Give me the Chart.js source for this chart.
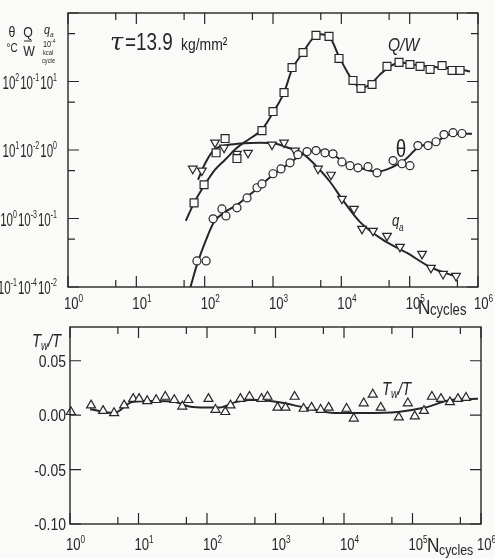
<!DOCTYPE html>
<html lang="ja">
<head>
<meta charset="UTF-8">
<title>Q/W, θ, q_a and Tw/T against N</title>
<script src="https://cdn.jsdelivr.net/npm/chart.js"></script>
<style>
    body { margin: 0; background: #fafaf8; }
    #wrap { position: relative; width: 495px; height: 559px; }
    #wrap canvas { position: absolute; left: 0; top: 0; }
</style>
</head>
<body>
<div id="wrap">
    <canvas id="upper" width="495" height="559"></canvas>
    <canvas id="lower" width="495" height="559"></canvas>
</div>
<script>
// values (N in cycles)
// upper panel, measured points
const qwN = [70, 98, 147, 199, 297, 690, 1000, 1450, 1900, 2750, 4260, 6600, 9250, 14800, 19400, 28100, 46600, 69900, 101000, 142000, 199000, 298000, 417000, 546000];
const qwVal = [1.69e-3, 3.11e-3, 9.1e-3, 1.47e-2, 7.5e-3, 1.92e-2, 3.64e-2, 6.9e-2, 0.160, 0.265, 0.471, 0.456, 0.217, 0.1035, 0.079, 0.0904, 0.166, 0.190, 0.177, 0.166, 0.150, 0.171, 0.145, 0.145];

const thetaN = [77, 105, 133, 179, 205, 297, 417, 584, 690, 1000, 1310, 1775, 2320, 3150, 4260, 5770, 7550, 10200, 13400, 17500, 24600, 33300, 57100, 77200, 101000, 132000, 186000, 243000, 318000, 431000, 583000];
const thetaVal = [0.24, 0.24, 0.99, 1.38, 1.09, 1.43, 2.0, 2.81, 3.2, 4.5, 5.3, 6.5, 8.55, 9.5, 9.8, 9.1, 8.8, 6.7, 5.9, 5.5, 5.7, 4.65, 7.0, 6.3, 5.9, 11.6, 11.6, 13.2, 16.8, 17.9, 17.4];

const qN = [67, 91, 142, 192, 297, 431, 967, 1450, 2100, 4560, 7060, 10200, 15300, 20100, 29100, 46600, 72200, 152000, 205000, 308000, 477000];
const qVal = [0.533, 0.50, 1.28, 1.08, 0.88, 0.91, 1.20, 1.28, 0.98, 0.533, 0.435, 0.194, 0.138, 0.0706, 0.066, 0.0557, 0.0385, 0.0304, 0.019, 0.0155, 0.0145];

// upper panel, drawn curves
const qwFitN = [53, 70, 98, 142, 199, 297, 461, 690, 1000, 1450, 1900, 2750, 3720, 4870, 6600, 9250, 12100, 15800, 20100, 26300, 36800, 51500, 72200, 142000, 278000, 546000, 764000];
const qwFitVal = [9.25e-4, 1.69e-3, 3.0e-3, 5.15e-3, 7.2e-3, 1.08e-2, 1.47e-2, 1.99e-2, 3.52e-2, 6.9e-2, 0.150, 0.265, 0.412, 0.488, 0.456, 0.232, 0.140, 0.0935, 0.0817, 0.0904, 0.126, 0.166, 0.190, 0.171, 0.160, 0.150, 0.140];

const thetaFitN = [62, 77, 105, 137, 199, 297, 417, 584, 1000, 1775, 2490, 3480, 4870, 7550, 11300, 18700, 33300, 57100, 85500, 132000, 243000, 431000, 817000];
const thetaFitVal = [0.1, 0.21, 0.49, 0.89, 1.25, 1.58, 2.07, 2.72, 4.35, 6.5, 8.26, 9.5, 9.8, 8.55, 6.5, 5.5, 4.82, 5.7, 7.2, 10.8, 13.2, 17.3, 17.3];

const qFitN = [80, 101, 137, 199, 329, 646, 1070, 1660, 2750, 4400, 6830, 10200, 18700, 40700, 91500, 199000, 493000];
const qFitVal = [0.368, 0.63, 1.01, 1.16, 1.24, 1.28, 1.24, 1.08, 0.88, 0.57, 0.344, 0.194, 0.0893, 0.0488, 0.0314, 0.0196, 0.014];

// lower panel
const twN = [1.03, 2.03, 3.04, 4.40, 6.17, 8.36, 10.2, 13.4, 18.1, 24.6, 33.3, 43.6, 53.3, 105, 133, 185, 220, 307, 417, 624, 764, 1070, 1400, 1900, 2570, 3360, 4560, 5970, 10900, 13900, 19400, 26300, 34400, 63100, 85500, 108000, 147000, 192000, 260000, 352000, 461000, 604000];
const twVal = [0.003, 0.009, 0.004, 0.002, 0.009, 0.015, 0.015, 0.013, 0.014, 0.017, 0.014, 0.008, 0.014, 0.015, 0.005, 0.003, 0.009, 0.015, 0.017, 0.015, 0.017, 0.007, 0.007, 0.017, 0.006, 0.007, 0.005, 0.007, 0.006, -0.003, 0.011, 0.019, 0.007, -0.002, 0.011, -0.001, 0.004, 0.017, 0.015, 0.012, 0.015, 0.016];
const twFitN = [1.96, 4.40, 8.08, 17.5, 34.4, 55.2, 94.6, 152, 260, 417, 545, 1070, 2940, 7300, 20100, 61000, 152000, 364000, 904000];
const twFitVal = [0.0055, 0.002, 0.012, 0.013, 0.012, 0.008, 0.007, 0.007, 0.012, 0.014, 0.014, 0.012, 0.0064, 0.002, 0.002, 0.003, 0.007, 0.014, 0.015];

// ticks
const xMajor = [1, 10, 100, 1e3, 1e4, 1e5, 1e6];
const xExp = [0, 1, 2, 3, 4, 5, 6];
const xMinor = [5, 50, 500, 5e3, 5e4, 5e5];
const thetaMajor = [0.1, 1, 10, 100, 1000];
const thetaMinor = [0.5, 5, 50, 500];
const thetaLabelVals = [100, 10, 1, 0.1];
const thetaTickExp = [2, 1, 0, -1];
const qwTickExp = [-1, -2, -3, -4];
const qTickExp = [1, 0, -1, -2];
const twTicks = [-0.10, -0.05, 0.00, 0.05];
const twTickLabels = ['-0.10', '-0.05', '0.00', '0.05'];

const ink = '#262626';
const paper = '#fafaf8';
const SANS = "'Liberation Sans', Arial, sans-serif";
const NARROW_SX = 0.82; // the scan uses a condensed face; squeeze Liberation Sans

function pts(xs, ys) {
    return xs.map((x, i) => ({ x: x, y: ys[i] }));
}

function marker(xs, ys, axis, style, r, rot) {
    return {
        data: pts(xs, ys), yAxisID: axis, showLine: false,
        pointStyle: style, pointRadius: r, pointHoverRadius: r, pointRotation: rot,
        pointBackgroundColor: paper, pointBorderColor: ink, pointBorderWidth: 1.2,
        clip: false, order: 0
    };
}

function curve(xs, ys, axis) {
    return {
        data: pts(xs, ys), yAxisID: axis, showLine: true,
        borderColor: ink, borderWidth: 2, pointRadius: 0, pointHoverRadius: 0,
        cubicInterpolationMode: 'monotone', order: 1
    };
}

function txt(ctx, s, x, y, o) {
    o = o || {};
    const size = o.size || 15;
    const sx = (o.sx || 1) * (o.family ? 1 : NARROW_SX);
    ctx.save();
    ctx.font = (o.italic ? 'italic ' : '') + size + 'px ' + (o.family || SANS);
    const w = ctx.measureText(s).width * sx;
    let x0 = x;
    if (o.align === 'right') x0 = x - w;
    else if (o.align === 'center') x0 = x - w / 2;
    ctx.translate(x0, y);
    ctx.scale(sx, 1);
    ctx.fillStyle = ink;
    ctx.textAlign = 'left';
    ctx.textBaseline = 'alphabetic';
    ctx.fillText(s, 0, 0);
    ctx.restore();
    return w;
}

// "10" with a raised exponent
function pow10(ctx, exp, x, y, size, sx, align) {
    const e = String(exp);
    const es = Math.round(size * 0.62);
    ctx.save();
    ctx.font = size + 'px ' + SANS;
    const wb = ctx.measureText('10').width * sx * NARROW_SX;
    ctx.font = es + 'px ' + SANS;
    const we = ctx.measureText(e).width * sx * NARROW_SX;
    ctx.restore();
    let x0 = x;
    if (align === 'right') x0 = x - wb - we;
    else if (align === 'center') x0 = x - (wb + we) / 2;
    txt(ctx, '10', x0, y, { size: size, sx: sx });
    txt(ctx, e, x0 + wb, y - size * 0.42, { size: es, sx: sx });
    return wb + we;
}

// box with inward ticks on all four sides
function frame(ctx, a, sx, sy, xMaj, xMin, yMaj, yMin) {
    ctx.save();
    ctx.strokeStyle = ink;
    ctx.lineWidth = 1.4;
    ctx.strokeRect(a.left, a.top, a.right - a.left, a.bottom - a.top);
    ctx.lineWidth = 1.2;
    ctx.beginPath();
    const xt = (v, len) => {
        const p = sx.getPixelForValue(v);
        ctx.moveTo(p, a.bottom); ctx.lineTo(p, a.bottom - len);
        ctx.moveTo(p, a.top); ctx.lineTo(p, a.top + len);
    };
    const yt = (v, len) => {
        const p = sy.getPixelForValue(v);
        ctx.moveTo(a.left, p); ctx.lineTo(a.left + len, p);
        ctx.moveTo(a.right, p); ctx.lineTo(a.right - len, p);
    };
    xMaj.forEach(v => xt(v, 11));
    xMin.forEach(v => xt(v, 7));
    yMaj.forEach(v => yt(v, 11));
    yMin.forEach(v => yt(v, 7));
    ctx.stroke();
    ctx.restore();
}

const upperDeco = {
    id: 'upperDeco',
    afterDraw(chart) {
        const ctx = chart.ctx, a = chart.chartArea;
        const sx = chart.scales.x, sy = chart.scales.y;
        frame(ctx, a, sx, sy, xMajor, xMinor, thetaMajor, thetaMinor);

        xMajor.forEach((v, i) => pow10(ctx, xExp[i], sx.getPixelForValue(v) - 4, 309, 16, 1, 'left'));

        // three stacked y-label columns: theta, Q/W, q
        thetaLabelVals.forEach((v, i) => {
            const y = sy.getPixelForValue(v) + 7;
            let x = 57;
            x -= pow10(ctx, qTickExp[i], x, y, 18, 0.78, 'right') + 1;
            x -= pow10(ctx, qwTickExp[i], x, y, 18, 0.78, 'right') + 1;
            pow10(ctx, thetaTickExp[i], x, y, 18, 0.78, 'right');
        });

        // column heads
        txt(ctx, 'θ', 12, 37, { size: 15, align: 'center' });
        txt(ctx, '°C', 12, 52, { size: 12, align: 'center' });
        txt(ctx, 'Q', 28, 37, { size: 15, align: 'center' });
        ctx.save();
        ctx.strokeStyle = ink; ctx.lineWidth = 1;
        ctx.beginPath(); ctx.moveTo(24, 41); ctx.lineTo(32, 41); ctx.stroke();
        ctx.restore();
        txt(ctx, 'W', 29, 56, { size: 15, align: 'center' });
        txt(ctx, 'q', 44, 34, { size: 13, italic: true });
        txt(ctx, 'a', 50, 37, { size: 8, italic: true });
        txt(ctx, '10', 43, 47, { size: 9 });
        txt(ctx, '-4', 51, 43, { size: 6 });
        txt(ctx, 'kcal', 43, 55, { size: 7 });
        txt(ctx, 'cycle', 42, 63, { size: 7 });

        // annotations
        txt(ctx, 'τ', 110, 50, { size: 24, italic: true, family: "'DejaVu Serif', serif" });
        txt(ctx, '=13.9', 125, 50, { size: 23 });
        txt(ctx, 'kg/mm²', 181, 50, { size: 17 });
        txt(ctx, 'Q/W', 388, 51, { size: 19, italic: true });
        txt(ctx, 'θ', 401, 157, { size: 23, align: 'center' });
        txt(ctx, 'q', 392, 226, { size: 16, italic: true });
        txt(ctx, 'a', 399, 231, { size: 10, italic: true });
        txt(ctx, 'N', 418, 314, { size: 21 });
        txt(ctx, 'cycles', 430, 315, { size: 16 });
    }
};

const lowerDeco = {
    id: 'lowerDeco',
    afterDraw(chart) {
        const ctx = chart.ctx, a = chart.chartArea;
        const sx = chart.scales.x, sy = chart.scales.y;
        frame(ctx, a, sx, sy, xMajor, xMinor, twTicks, []);

        xMajor.forEach((v, i) => pow10(ctx, xExp[i], sx.getPixelForValue(v) - 4, 550, 16, 1, 'left'));
        twTicks.forEach((v, i) => txt(ctx, twTickLabels[i], 66, sy.getPixelForValue(v) + 6, { size: 17, align: 'right' }));

        txt(ctx, 'T', 32, 347, { size: 18, italic: true });
        txt(ctx, 'w', 41, 350, { size: 12, italic: true });
        txt(ctx, '/T', 48, 347, { size: 18, italic: true });
        txt(ctx, 'T', 382, 395, { size: 18, italic: true });
        txt(ctx, 'w', 391, 398, { size: 12, italic: true });
        txt(ctx, '/T', 398, 395, { size: 18, italic: true });
        txt(ctx, 'N', 427, 552, { size: 21 });
        txt(ctx, 'cycles', 439, 555, { size: 15 });
    }
};

const quiet = { legend: { display: false }, tooltip: { enabled: false } };

new Chart(document.getElementById('upper'), {
    type: 'scatter',
    data: {
        datasets: [
            marker(qwN, qwVal, 'yQ', 'rect', 5.6, 0),
            marker(thetaN, thetaVal, 'y', 'circle', 4, 0),
            marker(qN, qVal, 'yq', 'triangle', 5, 180),
            curve(qwFitN, qwFitVal, 'yQ'),
            curve(thetaFitN, thetaFitVal, 'y'),
            curve(qFitN, qFitVal, 'yq')
        ]
    },
    options: {
        responsive: false,
        animation: false,
        layout: { padding: { left: 68, right: 17, top: 13, bottom: 272 } },
        scales: {
            x: { type: 'logarithmic', min: 1, max: 1e6, display: false },
            y: { type: 'logarithmic', min: 0.1, max: 1000, display: false },
            yQ: { type: 'logarithmic', min: 1e-4, max: 1, display: false },
            yq: { type: 'logarithmic', min: 0.01, max: 100, display: false }
        },
        plugins: quiet
    },
    plugins: [upperDeco]
});

new Chart(document.getElementById('lower'), {
    type: 'scatter',
    data: {
        datasets: [
            marker(twN, twVal, 'y', 'triangle', 5.2, 0),
            curve(twFitN, twFitVal, 'y')
        ]
    },
    options: {
        responsive: false,
        animation: false,
        layout: { padding: { left: 70, right: 14, top: 327, bottom: 35 } },
        scales: {
            x: { type: 'logarithmic', min: 1, max: 1e6, display: false },
            y: { type: 'linear', min: -0.10, max: 0.081, display: false }
        },
        plugins: quiet
    },
    plugins: [lowerDeco]
});
</script>
</body>
</html>
